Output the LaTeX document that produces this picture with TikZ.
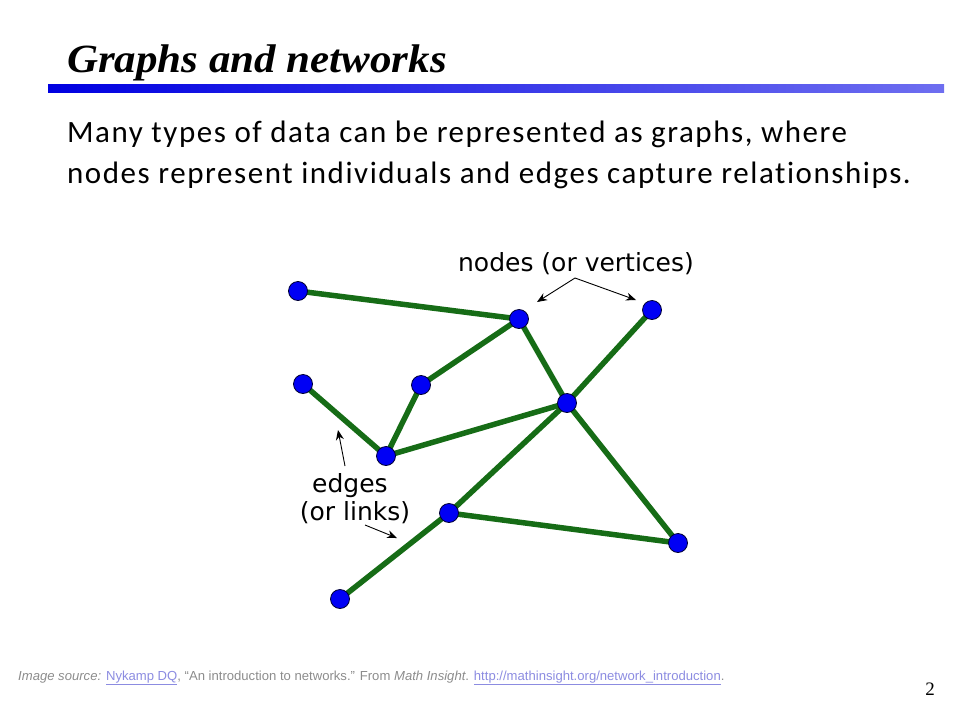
\documentclass[tikz,border=0pt]{standalone}
\usepackage{fontspec}
\setmainfont{Liberation Serif}
\newfontfamily\bodyfont[LetterSpace=5,Ligatures=NoCommon]{Carlito}
\newfontfamily\labfont{DejaVu Sans}
\newfontfamily\footfont{Liberation Sans}
\usetikzlibrary{arrows.meta}
\definecolor{edgegreen}{RGB}{22,108,22}
\definecolor{nodeblue}{RGB}{0,0,245}
\definecolor{barA}{RGB}{0,0,225}
\definecolor{barB}{RGB}{110,110,240}
\definecolor{footgray}{RGB}{140,140,140}
\definecolor{footlink}{RGB}{140,140,225}
\tikzset{
  vtx/.style={circle, fill=nodeblue, draw=black!80!blue, line width=0.8pt, minimum size=19pt, inner sep=0pt},
  edg/.style={draw=edgegreen, line width=5.5pt},
  ann/.style={draw=black, line width=0.9pt, -{Stealth[length=10pt,width=8pt]}},
  lab/.style={font=\labfont\fontsize{25}{30}\selectfont, inner sep=0pt}
}
\newcommand{\ulink}[1]{\underline{#1}}
\begin{document}
\begin{tikzpicture}[x=1pt,y=-1pt]
\useasboundingbox (0,0) rectangle (960,720);
% title
\node[anchor=base west, inner sep=0pt, xscale=1.074, font=\fontsize{40}{48}\selectfont\bfseries\itshape] (title) at (67,72) {Graphs and networks};
\shade[left color=barA, right color=barB] (48,84) rectangle (944,92);
% body
\node[anchor=base west, inner sep=0pt, font=\bodyfont\fontsize{31}{37}\selectfont] (l1) at (67,142.5) {Many types of data can be represented as graphs, where};
\node[anchor=base west, inner sep=0pt, font=\bodyfont\fontsize{31}{37}\selectfont] (l2) at (67,183.5) {nodes represent individuals and edges capture relationships.};
% graph nodes
\coordinate (pA) at (298,291);
\coordinate (pB) at (519,319);
\coordinate (pC) at (652,310);
\coordinate (pD) at (303,384);
\coordinate (pE) at (421,385);
\coordinate (pF) at (567,403);
\coordinate (pG) at (386,456);
\coordinate (pH) at (449,513);
\coordinate (pI) at (678,543);
\coordinate (pJ) at (340,599);
\draw[edg] (pA) -- (pB);
\draw[edg] (pB) -- (pE);
\draw[edg] (pB) -- (pF);
\draw[edg] (pC) -- (pF);
\draw[edg] (pD) -- (pG);
\draw[edg] (pE) -- (pG);
\draw[edg] (pG) -- (pF);
\draw[edg] (pF) -- (pH);
\draw[edg] (pF) -- (pI);
\draw[edg] (pH) -- (pI);
\draw[edg] (pH) -- (pJ);
\foreach \n in {A,B,C,D,E,F,G,H,I,J} { \node[vtx] (\n) at (p\n) {}; }
% labels
\node[lab] (nodeslab) at (576,264) {nodes (or vertices)};
\coordinate (na) at (575,278);
\draw[ann] (na) -- (537,302);
\draw[ann] (na) -- (636,300);
\node[lab] (edgeslab) at (350,486) {edges};
\node[lab] (linkslab) at (355,513) {(or links)};
\coordinate (ea) at (345,466);
\coordinate (eb) at (338,430);
\coordinate (ec) at (365,525);
\coordinate (ed) at (397,538);
\draw[ann] (ea) -- (eb);
\draw[ann] (ec) -- (ed);
% footer
\node[anchor=base west, inner sep=0pt, font=\footfont\fontsize{13.1}{15}\selectfont, color=footgray] (foot) at (18,680) {\textit{Image source:} \textcolor{footlink}{\ulink{Nykamp DQ}}, “An introduction to networks.” From \textit{Math Insight}. \textcolor{footlink}{\ulink{http://mathinsight.org/network\_introduction}}.};
\node[anchor=base, inner sep=0pt, font=\fontsize{19}{22}\selectfont] (pnum) at (930,695) {2};
\end{tikzpicture}
\end{document}
